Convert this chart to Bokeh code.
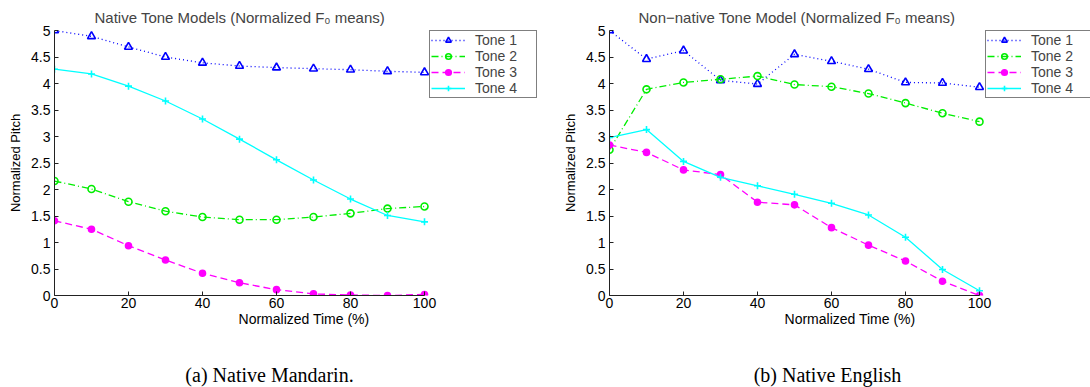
from bokeh.plotting import figure
from bokeh.models import Range1d, FixedTicker, Legend, LegendItem
from bokeh.layouts import row, column
from bokeh.core.properties import value
from bokeh.embed import file_html
from bokeh.resources import INLINE

# ---------------- data ----------------
time_pct = [0, 10, 20, 30, 40, 50, 60, 70, 80, 90, 100]
tone_names = ["Tone 1", "Tone 2", "Tone 3", "Tone 4"]

native_tone1 = [5.00, 4.89, 4.69, 4.50, 4.39, 4.33, 4.30, 4.28, 4.26, 4.23, 4.21]
native_tone2 = [2.16, 2.01, 1.77, 1.59, 1.48, 1.43, 1.43, 1.48, 1.55, 1.64, 1.68]
native_tone3 = [1.41, 1.25, 0.94, 0.67, 0.42, 0.24, 0.11, 0.03, 0.01, 0.00, 0.02]
native_tone4 = [4.27, 4.18, 3.95, 3.67, 3.33, 2.95, 2.56, 2.18, 1.82, 1.51, 1.39]

nonnative_tone1 = [5.00, 4.46, 4.62, 4.06, 3.99, 4.55, 4.42, 4.27, 4.02, 4.01, 3.93]
nonnative_tone2 = [2.75, 3.89, 4.02, 4.08, 4.14, 3.98, 3.94, 3.81, 3.63, 3.44, 3.28]
nonnative_tone3 = [2.84, 2.70, 2.37, 2.28, 1.76, 1.71, 1.28, 0.95, 0.65, 0.27, 0.00]
nonnative_tone4 = [2.98, 3.13, 2.53, 2.23, 2.07, 1.91, 1.74, 1.52, 1.10, 0.49, 0.09]

x_ticks = [0, 20, 40, 60, 80, 100]
y_ticks = [0, 0.5, 1, 1.5, 2, 2.5, 3, 3.5, 4, 4.5, 5]
y_tick_labels = ["0", "0.5", "1", "1.5", "2", "2.5", "3", "3.5", "4", "4.5", "5"]

titles = ["Native Tone Models (Normalized F\u2080 means)",
          "Non\u2212native Tone Model (Normalized F\u2080 means)"]
captions = ["(a) Native Mandarin.", "(b) Native English"]

# ---------------- styles ----------------
styles = [
    dict(color="#0000ff", dash="1 3", marker="triangle", size=8, filled=False),
    dict(color="#00ee00", dash="7 3 1 3", marker="circle", size=7, filled=False),
    dict(color="#ff00ff", dash="7 4", marker="circle", size=6, filled=True),
    dict(color="#00ffff", dash="solid", marker="cross", size=7, filled=False),
]

SANS = "Liberation Sans"
AXES_W = 370      # pixel width of the 0..100 axis span
FRAME_H = 265


def make_fig(title, series, border_left, frame_w, title_offset, legend_x):
    x_end = 100.0 * frame_w / AXES_W
    p = figure(frame_width=frame_w, frame_height=FRAME_H, output_backend="svg",
               toolbar_location=None,
               x_range=Range1d(0, x_end), y_range=Range1d(0, 5),
               min_border_left=border_left, min_border_right=0,
               min_border_top=30, min_border_bottom=55)
    p.title.text = title
    p.title.align = "left"
    p.title.offset = title_offset
    p.title.text_font = SANS
    p.title.text_font_size = "15px"
    p.title.text_font_style = "normal"
    p.title.standoff = 10
    p.outline_line_color = None
    p.xgrid.visible = False
    p.ygrid.visible = False
    p.background_fill_color = "white"
    p.border_fill_color = "white"

    for ax in (p.xaxis[0], p.yaxis[0]):
        ax.axis_line_color = "#222222"
        ax.major_tick_line_color = "#222222"
        ax.major_tick_in = 4
        ax.major_tick_out = 0
        ax.minor_tick_line_color = None
        ax.major_label_text_font = SANS
        ax.major_label_text_font_size = "14px"
        ax.major_label_text_color = "black"
        ax.axis_label_text_font = SANS
        ax.axis_label_text_font_size = "14px"
        ax.axis_label_text_font_style = "normal"
        ax.axis_label_text_color = "black"

    p.xaxis.ticker = FixedTicker(ticks=x_ticks)
    p.xaxis.bounds = (0, 100)
    p.yaxis.ticker = FixedTicker(ticks=y_ticks)
    p.yaxis.major_label_overrides = {t: s for t, s in zip(y_ticks, y_tick_labels)}
    p.xaxis.axis_label = "Normalized Time (%)"
    p.yaxis.axis_label = "Normalized Pitch"
    p.yaxis.axis_label_text_font_size = "13px"
    p.xaxis.major_label_standoff = 2
    p.xaxis.axis_label_standoff = 0
    p.yaxis.major_label_standoff = 4
    p.yaxis.axis_label_standoff = 5

    items = []
    for name, ys, st in zip(tone_names, series, styles):
        ln = p.line(time_pct, ys, line_color=st["color"], line_width=1.3,
                    line_dash=st["dash"])
        sc = p.scatter(time_pct, ys, marker=st["marker"], size=st["size"],
                       line_color=st["color"], line_width=1.6,
                       fill_color=st["color"] if st["filled"] else None)
        items.append(LegendItem(label=name, renderers=[ln, sc]))

    legend = Legend(items=items, location=(legend_x, 197))
    legend.label_text_font = SANS
    legend.label_text_font_size = "14px"
    legend.label_height = 14
    legend.glyph_height = 14
    legend.glyph_width = 34
    legend.label_standoff = 10
    legend.label_width = 60
    legend.spacing = 0
    legend.padding = 1
    legend.margin = 0
    legend.border_line_color = "black"
    legend.border_line_width = 1.5
    legend.background_fill_color = "white"
    legend.background_fill_alpha = 1
    p.add_layout(legend, "center")
    return p


p1 = make_fig(titles[0], [native_tone1, native_tone2, native_tone3, native_tone4],
              54, 499, 40, 375)
p2 = make_fig(titles[1], [nonnative_tone1, nonnative_tone2, nonnative_tone3, nonnative_tone4],
              56, 481, 29, 376)

# caption strip below both panels
cap_x = [269, 827]
cap = figure(width=1090, height=37, output_backend="svg", toolbar_location=None,
             x_range=Range1d(0, 1090), y_range=Range1d(0, 37),
             min_border=0)
cap.axis.visible = False
cap.grid.visible = False
cap.outline_line_color = None
cap.text(x=cap_x, y=[13, 13], text=captions, text_align="center",
         text_baseline="middle", text_font=value("Liberation Serif"),
         text_font_size="20px", text_color="black")

layout = column(row(p1, p2), cap)
open("out.html", "w").write(file_html(layout, INLINE))
